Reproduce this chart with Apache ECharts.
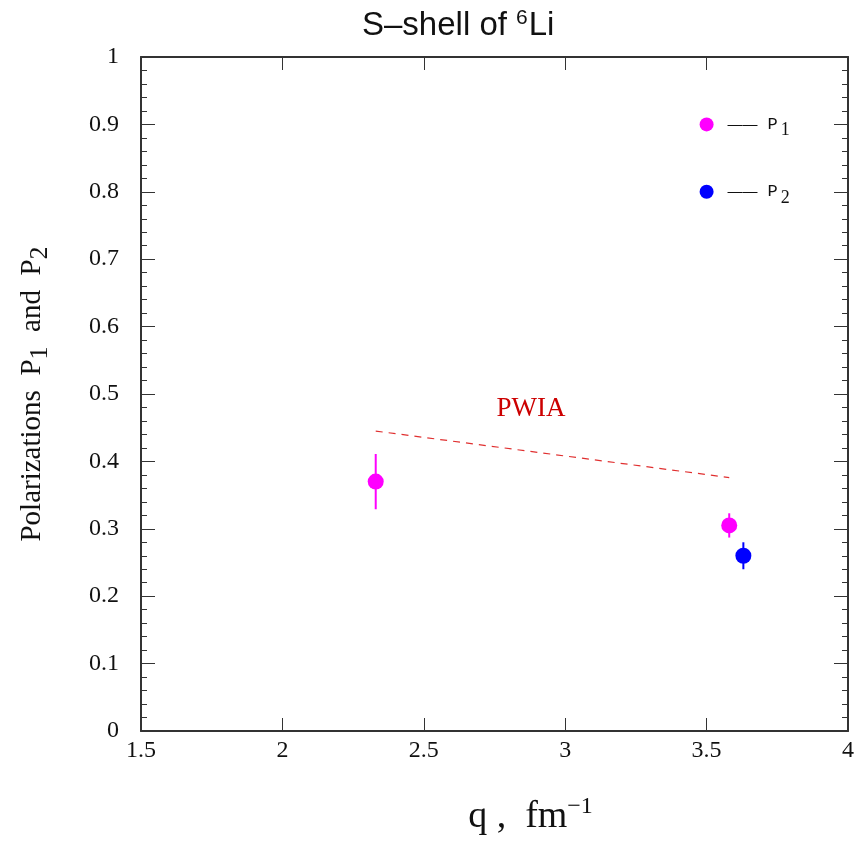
<!DOCTYPE html>
<html>
<head>
<meta charset="utf-8">
<script src="https://cdn.jsdelivr.net/npm/echarts@6/dist/echarts.min.js"></script>
<style>html,body{margin:0;padding:0;background:#fff}#c{width:861px;height:842px}</style>
</head>
<body>
<div id="c"></div>
<script>
// ---- data ----
const xTicks = [1.5, 2, 2.5, 3, 3.5, 4];
const yTicks = [0, 0.1, 0.2, 0.3, 0.4, 0.5, 0.6, 0.7, 0.8, 0.9, 1];
const p1Q = [2.33, 3.58];
const p1Val = [0.37, 0.305];
const p1Err = [0.041, 0.018];
const p2Q = [3.63];
const p2Val = [0.26];
const p2Err = [0.02];
const pwiaQ = [2.33, 3.58];
const pwiaVal = [0.445, 0.376];
const pwiaLabelPos = [2.879, 0.478];
const legendPos = [[3.5, 0.9], [3.5, 0.8]];

const serif = 'Liberation Serif';
const axisColor = '#333';

function pts(xs, ys) { return xs.map((x, i) => [x, ys[i]]); }
function errData(xs, ys, es) { return xs.map((x, i) => [x, ys[i] - es[i], ys[i] + es[i]]); }

function errSeries(data, color) {
  return {
    type: 'custom',
    xAxisIndex: 0, yAxisIndex: 0,
    data: data,
    silent: true,
    renderItem: function (params, api) {
      const lo = api.coord([api.value(0), api.value(1)]);
      const hi = api.coord([api.value(0), api.value(2)]);
      return {
        type: 'line',
        shape: { x1: lo[0], y1: lo[1], x2: hi[0], y2: hi[1] },
        style: { stroke: color, lineWidth: 2 }
      };
    },
    z: 3
  };
}

function legendLabel(n) {
  return {
    show: true, position: 'right', distance: 14,
    formatter: '{d|\u2014\u2014}   {p|P}{s|' + n + '}',
    rich: {
      d: { fontFamily: 'Liberation Sans', fontSize: 15, color: '#111' },
      p: { fontFamily: 'Liberation Mono', fontSize: 17, color: '#111' },
      s: { fontFamily: serif, fontSize: 18, color: '#111', verticalAlign: 'bottom', padding: [12, 0, 0, 3] }
    }
  };
}

const chart = echarts.init(document.getElementById('c'));
const xBase = {
  type: 'value', min: xTicks[0], max: xTicks[xTicks.length - 1], interval: 0.5,
  axisLine: { show: true, onZero: false, lineStyle: { color: axisColor, width: 2 } },
  axisTick: { show: true, inside: true, length: 13, lineStyle: { color: axisColor, width: 1 } },
  splitLine: { show: false }
};
const yBase = {
  type: 'value', min: yTicks[0], max: yTicks[yTicks.length - 1], interval: 0.1,
  axisLine: { show: true, onZero: false, lineStyle: { color: axisColor, width: 2 } },
  axisTick: { show: true, inside: true, length: 14, lineStyle: { color: axisColor, width: 1 } },
  minorTick: { show: true, splitNumber: 5, length: 6, lineStyle: { color: axisColor, width: 1 } },
  splitLine: { show: false }
};

chart.setOption({
  animation: false,
  backgroundColor: '#fff',
  title: {
    text: 'S\u2013shell of {sup|6}Li',
    left: 362, top: 8, padding: 0,
    textStyle: {
      fontFamily: 'Liberation Sans', fontSize: 33, fontWeight: 'normal', color: '#111',
      rich: { sup: { fontFamily: 'Liberation Sans', fontSize: 21, verticalAlign: 'top', padding: [0, 1, 14, 0], color: '#111' } }
    }
  },
  grid: { left: 141, right: 13, top: 57, bottom: 111, containLabel: false },
  xAxis: [
    Object.assign({}, xBase, {
      position: 'bottom',
      name: 'q ,  fm{sup|\u22121}',
      nameLocation: 'middle', nameGap: 64,
      nameTextStyle: {
        fontFamily: serif, fontSize: 38, color: '#111', padding: [0, 0, 0, 72],
        rich: { sup: { fontFamily: serif, fontSize: 24, verticalAlign: 'top', padding: [0, 0, 20, 0], color: '#111' } }
      },
      axisLabel: { fontFamily: serif, fontSize: 24, color: '#111', margin: 8,
        formatter: v => String(v) }
    }),
    Object.assign({}, xBase, { position: 'top', axisLabel: { show: false } })
  ],
  yAxis: [
    Object.assign({}, yBase, {
      position: 'left',
      name: 'Polarizations  P{sub|1}  and  P{sub|2}',
      nameLocation: 'middle', nameGap: 88, nameRotate: 90,
      nameTextStyle: {
        fontFamily: serif, fontSize: 29, color: '#111',
        rich: { sub: { fontFamily: serif, fontSize: 26, verticalAlign: 'bottom', padding: [16, 0, 0, 0], color: '#111' } }
      },
      axisLabel: { fontFamily: serif, fontSize: 24, color: '#111', margin: 22,
        formatter: v => String(Math.round(v * 10) / 10) }
    }),
    Object.assign({}, yBase, { position: 'right', axisLabel: { show: false } })
  ],
  series: [
    {
      type: 'line', data: pts(pwiaQ, pwiaVal), symbol: 'none',
      lineStyle: { color: '#e03030', width: 1.2, type: [7, 6] }, z: 2
    },
    {
      type: 'scatter', data: [pwiaLabelPos], symbolSize: 0,
      itemStyle: { opacity: 1 },
      label: { show: true, position: 'inside', formatter: 'PWIA',
        fontFamily: serif, fontSize: 27, color: '#cc0000', opacity: 1 }
    },
    errSeries(errData(p1Q, p1Val, p1Err), '#ff00ff'),
    errSeries(errData(p2Q, p2Val, p2Err), '#0000ff'),
    {
      type: 'scatter', data: pts(p1Q, p1Val), symbol: 'circle', symbolSize: 16,
      itemStyle: { color: '#ff00ff', opacity: 1 }, z: 4
    },
    {
      type: 'scatter', data: pts(p2Q, p2Val), symbol: 'circle', symbolSize: 16,
      itemStyle: { color: '#0000ff', opacity: 1 }, z: 4
    },
    {
      type: 'scatter', data: [legendPos[0]], symbol: 'circle', symbolSize: 14,
      itemStyle: { color: '#ff00ff', opacity: 1 }, label: legendLabel(1)
    },
    {
      type: 'scatter', data: [legendPos[1]], symbol: 'circle', symbolSize: 14,
      itemStyle: { color: '#0000ff', opacity: 1 }, label: legendLabel(2)
    }
  ]
});
</script>
</body>
</html>
